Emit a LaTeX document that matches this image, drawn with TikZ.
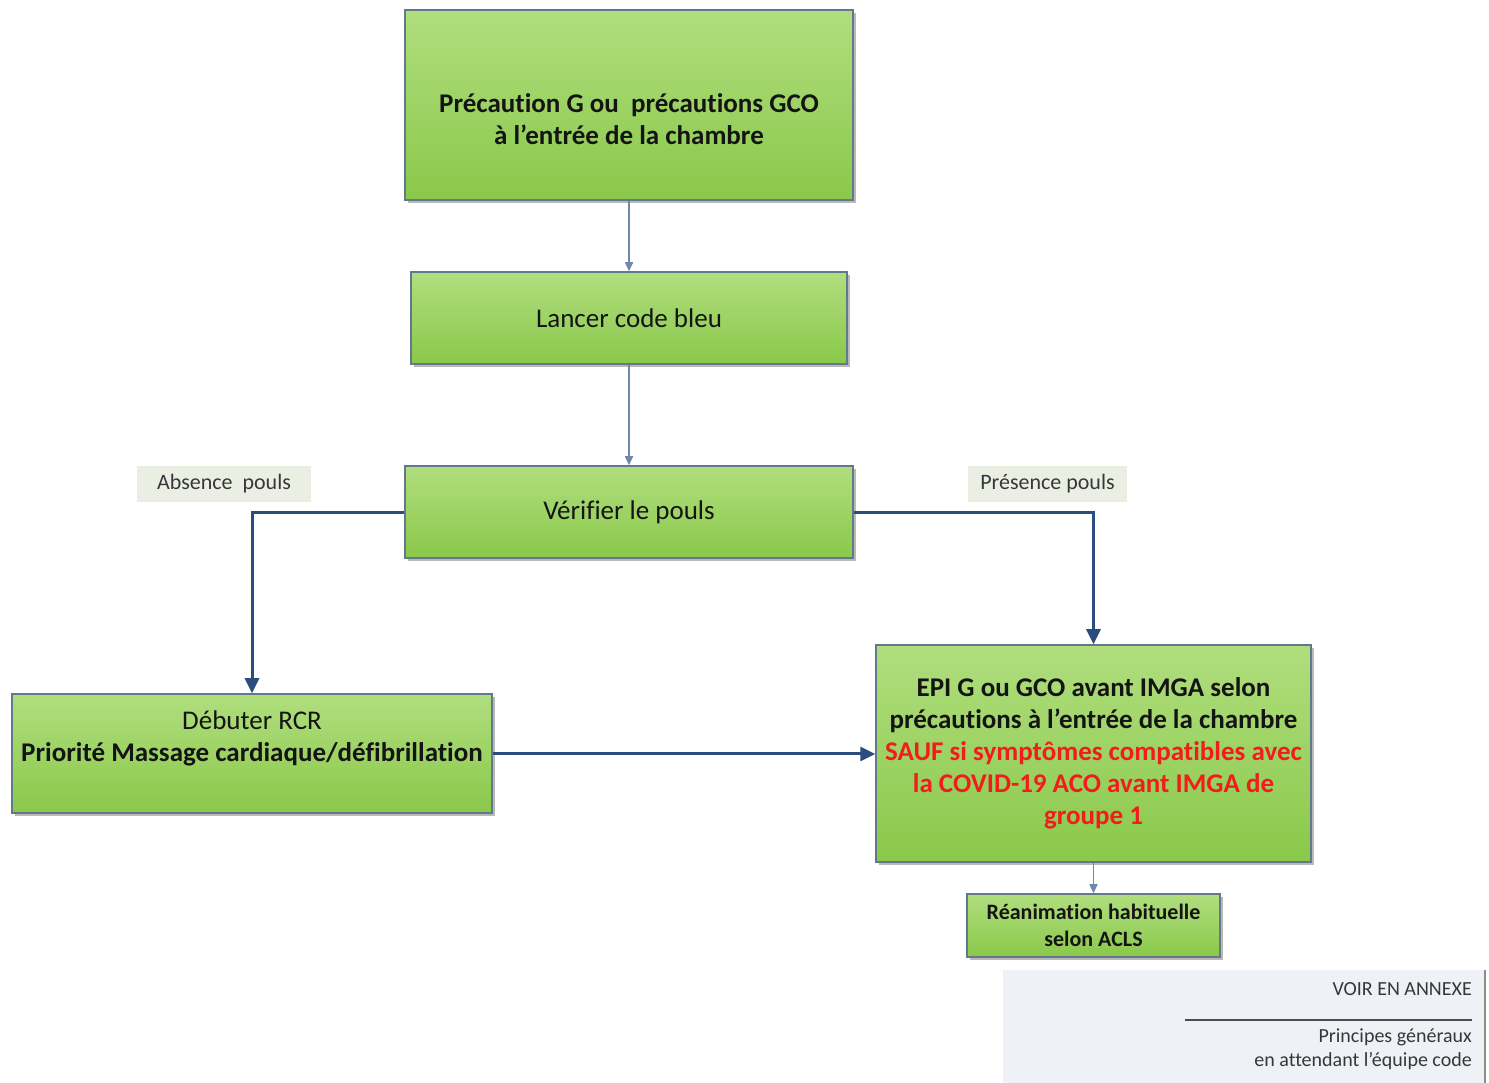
\documentclass[tikz,border=0pt]{standalone}
\usepackage{fontspec}
\setmainfont{Carlito}[Ligatures=NoCommon]
\usetikzlibrary{arrows.meta,shadows}
\definecolor{gtop}{HTML}{B0DE7E}
\definecolor{gbot}{HTML}{8AC84A}
\definecolor{bord}{HTML}{61798A}
\definecolor{thinc}{HTML}{6F87A8}
\definecolor{thickc}{HTML}{2B4C7E}
\definecolor{labc}{HTML}{EBEFE3}
\definecolor{annexc}{HTML}{EEF1F6}
\definecolor{redtxt}{HTML}{F21C1C}
\definecolor{txt}{HTML}{141414}
\begin{document}
\begin{tikzpicture}[x=1pt,y=1pt,
  box/.style={draw=bord,line width=1.5pt,top color=gtop,bottom color=gbot,
    rectangle,inner sep=0pt,
    drop shadow={shadow xshift=3pt,shadow yshift=-3pt,fill=black!50,opacity=0.55}},
  bigtxt/.style={font=\fontsize{27}{32}\selectfont,text=txt,align=center},
  labbox/.style={fill=labc,inner sep=0pt,minimum width=#1,minimum height=36pt,
    font=\fontsize{22}{26}\selectfont,text=txt!85},
  thinarrow/.style={draw=thinc,line width=1.6pt,-{Triangle[length=9pt,width=8pt]}},
  thickarrow/.style={draw=thickc,line width=3pt,-{Triangle[length=15pt,width=14pt]}},
  annextxt/.style={font=\fontsize{20}{24}\selectfont,text=txt!85,anchor=east,inner sep=0pt}
]
\useasboundingbox (0,0) rectangle (1489,1083);

% boxes
\node[box,minimum width=448pt,minimum height=190pt] (b1) at (629,978) {};
\node[bigtxt] (b1t) at (629,964) {\textbf{Précaution G ou\ \ précautions GCO}\\\textbf{à l’entrée de la chambre}};

\node[box,minimum width=436pt,minimum height=92pt,bigtxt] (b2) at (629,765) {Lancer code bleu};

\node[box,minimum width=448pt,minimum height=92pt,bigtxt] (b3) at (629,571) {Vérifier le pouls};

\node[box,minimum width=480pt,minimum height=119pt] (b4) at (252,329.5) {};
\node[bigtxt] (b4t) at (252,345) {Débuter RCR\\\textbf{Priorité Massage cardiaque/défibrillation}};

\node[box,minimum width=435pt,minimum height=217pt,bigtxt] (b5) at (1093.5,329.5)
  {\textbf{EPI G ou GCO avant IMGA selon}\\
   \textbf{précautions à l’entrée de la chambre}\\
   \textcolor{redtxt}{\textbf{SAUF si symptômes compatibles avec}}\\
   \textcolor{redtxt}{\textbf{la COVID-19 ACO avant IMGA de}}\\
   \textcolor{redtxt}{\textbf{groupe 1}}};

\node[box,minimum width=253pt,minimum height=63pt,align=center,text=txt,font=\fontsize{22}{27}\selectfont\bfseries] (b6) at (1093.5,157.5)
  {Réanimation habituelle\\selon ACLS};

% labels
\node[labbox=174pt] (labs) at (224,599) {Absence\ \ pouls};
\node[labbox=159pt] (lpres) at (1047.5,599) {Présence pouls};

% annex
\fill[annexc] (1003,0) rectangle (1485,113);
\draw[black!45,line width=1.2pt] (1485,0) -- (1485,113);
\node[annextxt] (a1) at (1472,94) {VOIR EN ANNEXE};
\node[anchor=east,inner sep=0pt] (a2) at (1472,63) {\color{black!70}\rule{287pt}{1.2pt}};
\node[annextxt] (a3) at (1472,46) {Principes généraux};
\node[annextxt] (a4) at (1472,22) {en attendant l’équipe code};

% connectors
\draw[thinarrow] (b1.south) -- (b2.north);
\draw[thinarrow] (b2.south) -- (b3.north);
\draw[thickarrow] (b3.west |- 0,570) -| (b4.north);
\draw[thickarrow] (b3.east |- 0,570) -| (b5.north);
\draw[thickarrow] (b4.east |- 0,329) -- (b5.west |- 0,329);
\draw[thinarrow] (b5.south) -- (b6.north);
\end{tikzpicture}
\end{document}
